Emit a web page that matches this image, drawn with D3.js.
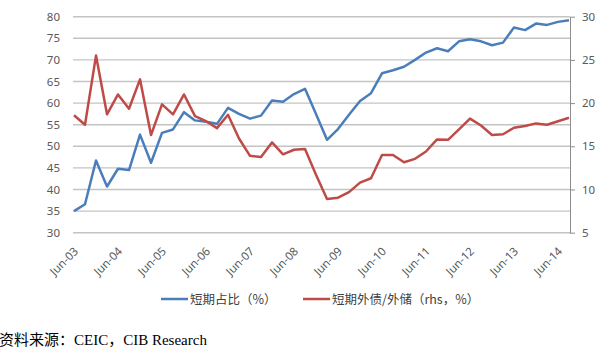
<!DOCTYPE html>
<html><head><meta charset="utf-8">
<script src="https://cdn.jsdelivr.net/npm/d3@7"></script>
<style>
html,body{margin:0;padding:0;background:#fff;}
svg{display:block;}
</style>
</head><body>
<svg id="chart" width="610" height="355"></svg>
<script>
const categories = [
 "Jun-03","Sep-03","Dec-03","Mar-04","Jun-04","Sep-04","Dec-04","Mar-05",
 "Jun-05","Sep-05","Dec-05","Mar-06","Jun-06","Sep-06","Dec-06","Mar-07",
 "Jun-07","Sep-07","Dec-07","Mar-08","Jun-08","Sep-08","Dec-08","Mar-09",
 "Jun-09","Sep-09","Dec-09","Mar-10","Jun-10","Sep-10","Dec-10","Mar-11",
 "Jun-11","Sep-11","Dec-11","Mar-12","Jun-12","Sep-12","Dec-12","Mar-13",
 "Jun-13","Sep-13","Dec-13","Mar-14","Jun-14","Sep-14"];
const shortShare = [35.0,36.6,46.7,40.7,44.8,44.5,52.7,46.2,53.1,53.9,57.9,56.0,
 55.7,55.2,58.9,57.5,56.4,57.1,60.6,60.3,62.1,63.3,57.5,51.5,
 54.0,57.3,60.5,62.3,66.9,67.6,68.4,70.0,71.7,72.7,72.0,74.3,
 74.8,74.3,73.4,74.0,77.5,76.9,78.4,78.1,78.8,79.2];
const shortToReserves = [18.6,17.5,25.5,18.7,21.0,19.35,22.75,16.3,19.85,18.7,21.0,18.5,
 17.9,17.1,18.65,15.9,13.9,13.75,15.45,14.07,14.6,14.7,11.7,8.9,
 9.05,9.7,10.8,11.3,14.0,14.0,13.15,13.55,14.4,15.8,15.75,16.96,
 18.2,17.4,16.3,16.4,17.15,17.35,17.65,17.5,17.9,18.3];
const xTickLabels = ["Jun-03","Jun-04","Jun-05","Jun-06","Jun-07","Jun-08","Jun-09","Jun-10","Jun-11","Jun-12","Jun-13","Jun-14"];
const leftTicks = [30,35,40,45,50,55,60,65,70,75,80];
const rightTicks = [5,10,15,20,25,30];
const seriesNames = ["短期占比（%）","短期外债/外储（rhs，%）"];
const sourceText = "资料来源：CEIC，CIB Research";

const svg = d3.select("#chart");
const x = d3.scalePoint().domain(categories).range([74, 569]);
const yL = d3.scaleLinear().domain([30, 80]).range([232.7, 16.7]);
const yR = d3.scaleLinear().domain([5, 30]).range([232.7, 16.7]);
const axisFont = "'Noto Sans', 'Liberation Sans', sans-serif";
const cjkFont = "'Noto Sans CJK SC', sans-serif";

// gridlines
svg.append("g").selectAll("line").data(leftTicks).join("line")
  .attr("x1", 73).attr("x2", 570)
  .attr("y1", d => yL(d)).attr("y2", d => yL(d))
  .attr("stroke", "#c4c4c4").attr("stroke-width", 1.4);

// left axis labels
const gl = svg.append("g").attr("transform", "translate(73,0)")
  .call(d3.axisLeft(yL).tickValues(leftTicks).tickSize(0).tickPadding(13));
gl.select(".domain").remove();
gl.selectAll("text").attr("font-family", axisFont).attr("font-size", 11.5).attr("fill", "#595959");

// right axis
const gr = svg.append("g").attr("transform", "translate(570,0)")
  .call(d3.axisRight(yR).tickValues(rightTicks).tickSize(5).tickSizeOuter(0).tickPadding(7));
gr.select(".domain").attr("stroke", "#8c8c8c").attr("stroke-width", 1);
gr.selectAll(".tick line").attr("stroke", "#8c8c8c");
gr.selectAll("text").attr("font-family", axisFont).attr("font-size", 11.5).attr("fill", "#595959");

// x labels
svg.append("g").selectAll("text").data(xTickLabels).join("text")
  .attr("transform", d => `translate(${x(d) + 5},252) rotate(-45)`)
  .attr("text-anchor", "end")
  .attr("font-family", axisFont).attr("font-size", 11.5).attr("fill", "#595959")
  .text(d => d);

// lines
const lineL = d3.line().x((d, i) => x(categories[i])).y(d => yL(d));
const lineR = d3.line().x((d, i) => x(categories[i])).y(d => yR(d));
svg.append("path").datum(shortShare).attr("d", lineL)
  .attr("fill", "none").attr("stroke", "#4a7ebb").attr("stroke-width", 2.5).attr("stroke-linejoin", "round");
svg.append("path").datum(shortToReserves).attr("d", lineR)
  .attr("fill", "none").attr("stroke", "#be4b48").attr("stroke-width", 2.5).attr("stroke-linejoin", "round");

// legend
const legendItems = [
  {name: seriesNames[0], color: "#4a7ebb", x: 161},
  {name: seriesNames[1], color: "#be4b48", x: 303}
];
const lg = svg.append("g").selectAll("g").data(legendItems).join("g")
  .attr("transform", d => `translate(${d.x},299)`);
lg.append("line").attr("x1", 0).attr("x2", 27).attr("y1", 0).attr("y2", 0)
  .attr("stroke", d => d.color).attr("stroke-width", 2.5);
lg.append("text").attr("x", 29).attr("y", 4.5)
  .attr("font-family", cjkFont).attr("font-size", 12.5).attr("fill", "#404040")
  .text(d => d.name);

// source
svg.append("text").attr("x", -1).attr("y", 345)
  .attr("font-family", "'Liberation Serif', 'Noto Sans CJK SC', serif")
  .attr("font-size", 15).attr("fill", "#000")
  .text(sourceText);
</script>
</body></html>
